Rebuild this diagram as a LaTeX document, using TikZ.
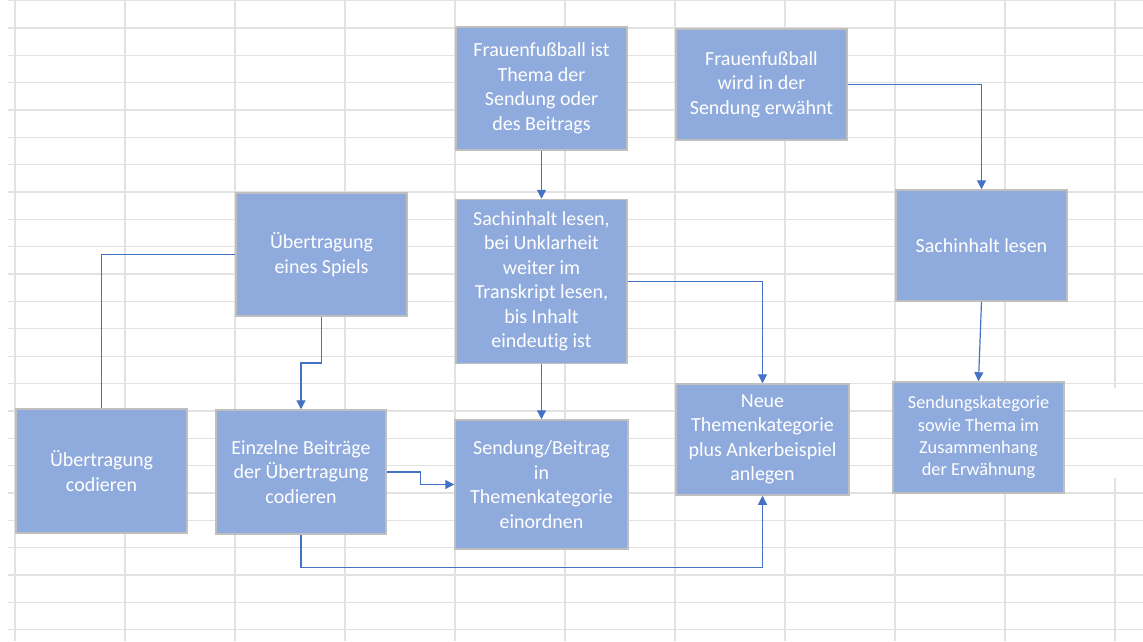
\documentclass[tikz,border=0pt]{standalone}
\usepackage{fontspec}
\setmainfont{Carlito}[Ligatures=NoCommon]
\usetikzlibrary{arrows.meta,calc}
\definecolor{boxfill}{HTML}{8FAADC}
\definecolor{boxline}{HTML}{BFBFBF}
\definecolor{conncol}{HTML}{4472C4}
\definecolor{gridcol}{HTML}{E2E2E2}
\begin{document}
\begin{tikzpicture}[x=1pt,y=-1pt,
  flowbox/.style={draw=boxline,line width=1.5pt,fill=boxfill,text=white,
    align=center,inner sep=0pt,minimum width=171pt,
    font=\fontsize{20}{24.5}\selectfont},
  smallbox/.style={flowbox,font=\fontsize{18.3}{22.3}\selectfont},
  conn/.style={draw=conncol,line width=1.2pt},
  arr/.style={conn,-{Triangle[length=9pt,width=9pt]}},
  gridline/.style={draw=gridcol,line width=1.3pt}]
\useasboundingbox (0,0) rectangle (1143,641);
\fill[white] (0,0) rectangle (1143,641);
% spreadsheet grid
\foreach \k in {0,...,23} {\draw[gridline] (8,{0.6+27.35*\k}) -- (1143,{0.6+27.35*\k});}
\foreach \k in {0,...,9} {\draw[gridline] ({15+110*\k},0) -- ({15+110*\k},641);}
\draw[gridline] (1115,0) -- (1115,388);
\draw[gridline] (1115,478) -- (1115,641);
% boxes
\node[flowbox,minimum height=123pt] (b1) at (541.5,88.5) {Frauenfußball ist\\Thema der\\Sendung oder\\des Beitrags};
\node[flowbox,minimum height=111pt] (b2) at (761.5,84.5) {Frauenfußball\\wird in der\\Sendung erwähnt};
\node[flowbox,minimum height=123pt] (b3) at (321.5,254.5) {Übertragung\\eines Spiels};
\node[flowbox,minimum height=164pt] (b4) at (541.5,281.5) {Sachinhalt lesen,\\bei Unklarheit\\weiter im\\Transkript lesen,\\bis Inhalt\\eindeutig ist};
\node[flowbox,minimum height=111pt] (b5) at (981.5,245.5) {Sachinhalt lesen};
\node[flowbox,minimum height=124pt] (b6) at (101.5,471) {Übertragung\\codieren};
\node[flowbox,minimum width=170pt,minimum height=124pt] (b7) at (301,472) {Einzelne Beiträge\\der Übertragung\\codieren};
\node[flowbox,minimum width=173pt,minimum height=129pt] (b8) at (541.5,484.5) {Sendung/Beitrag\\in\\Themenkategorie\\einordnen};
\node[flowbox,minimum width=173pt,minimum height=111pt] (b9) at (762.5,439.5) {Neue\\Themenkategorie\\plus Ankerbeispiel\\anlegen};
\node[smallbox,minimum height=111pt] (b10) at (978.5,437.5) {Sendungskategorie\\sowie Thema im\\Zusammenhang\\der Erwähnung};
% connectors
\draw[arr] (b1.south) -- (b4.north);
\draw[arr] (b2.east) -| (b5.north);
\draw[conn] (b3.west) -| (b6.north);
\draw[arr] (b3.south) |- ($(b3.south)!.5!(b7.north)$) -| (b7.north);
\draw[arr] (b4.south) -- (b8.north);
\draw[arr] (b4.east) -| (b9.north);
\draw[arr] (b7.east) -| ($(b7.east)!.5!(b8.west)$) |- (b8.west);
\draw[arr] (b7.south) -- ++(0,32.7) -| (b9.south);
\draw[arr] (b5.south) -- (b10.north);
\end{tikzpicture}
\end{document}
